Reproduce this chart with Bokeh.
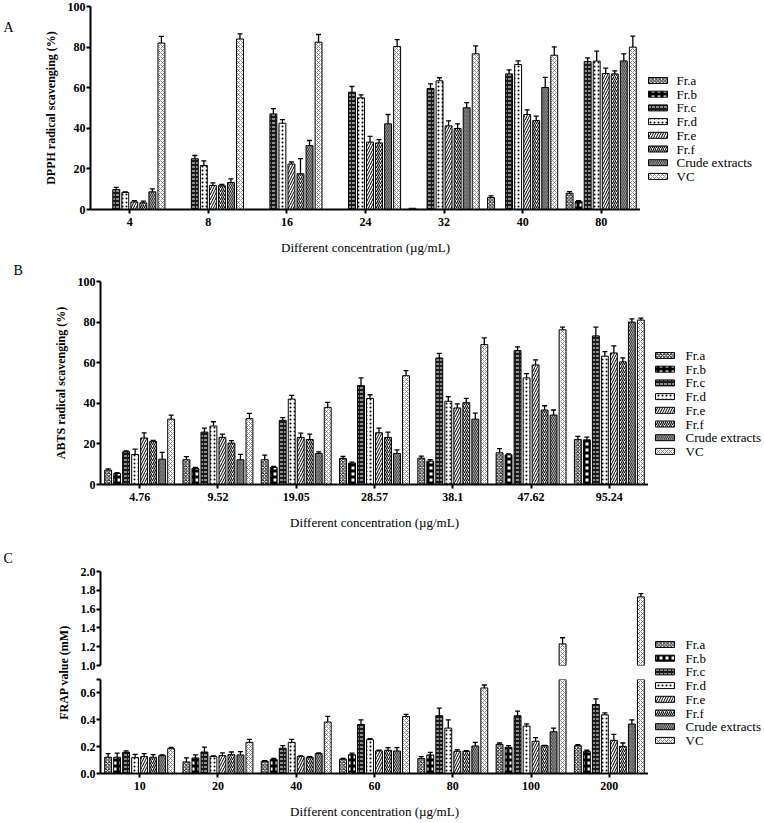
import math
from bokeh.plotting import figure
from bokeh.models import (ColumnDataSource, Range1d, FactorRange, FixedTicker,
                          Label, PrintfTickFormatter)
from bokeh.layouts import column, row
from bokeh.transform import dodge
from bokeh.core.properties import value
from bokeh.embed import file_html
from bokeh.resources import INLINE

FONT = "Liberation Serif"
series = ["Fr.a", "Fr.b", "Fr.c", "Fr.d", "Fr.e", "Fr.f", "Crude extracts", "VC"]

# ---------------- Panel A : DPPH ----------------
dpph_conc = ["4", "8", "16", "24", "32", "40", "80"]
dpph_fra = [0, 0, 0, 0, 0.6, 5.9, 8.0]
dpph_frb = [0, 0, 0, 0, 0, 0, 3.9]
dpph_frc = [9.8, 25.0, 47.1, 57.8, 59.6, 66.8, 72.9]
dpph_frd = [8.4, 21.7, 42.5, 55.0, 63.4, 71.4, 73.1]
dpph_fre = [3.7, 11.8, 22.4, 33.2, 41.2, 46.8, 67.0]
dpph_frf = [3.3, 11.7, 17.6, 32.8, 39.9, 43.8, 66.8]
dpph_crude = [8.7, 13.3, 31.5, 42.2, 50.1, 60.1, 73.2]
dpph_vc = [82.0, 84.0, 82.4, 80.3, 76.7, 76.0, 80.0]
dpph_fra_err = [0, 0, 0, 0, 0, 0.8, 0.8]
dpph_frb_err = [0, 0, 0, 0, 0, 0, 0.5]
dpph_frc_err = [1.1, 1.6, 2.6, 2.8, 2.3, 2.0, 1.8]
dpph_frd_err = [0.3, 2.3, 1.8, 1.5, 1.5, 1.8, 4.9]
dpph_fre_err = [0.6, 1.3, 1.0, 2.8, 2.5, 2.3, 2.6]
dpph_frf_err = [0.8, 0.7, 7.5, 1.6, 2.3, 2.2, 1.5]
dpph_crude_err = [1.5, 1.8, 2.5, 4.6, 2.5, 5.0, 3.5]
dpph_vc_err = [3.3, 2.5, 3.8, 3.4, 3.9, 4.1, 5.4]

# ---------------- Panel B : ABTS ----------------
abts_conc = ["4.76", "9.52", "19.05", "28.57", "38.1", "47.62", "95.24"]
abts_fra = [7.1, 12.2, 12.2, 12.8, 13.0, 15.6, 22.2]
abts_frb = [5.4, 7.9, 8.4, 10.5, 11.5, 14.6, 22.0]
abts_frc = [16.1, 25.8, 31.6, 48.7, 62.3, 66.0, 73.2]
abts_frd = [14.8, 28.8, 42.1, 42.4, 41.0, 52.5, 63.2]
abts_fre = [22.9, 23.2, 23.2, 25.5, 37.7, 58.9, 64.8]
abts_frf = [21.2, 20.4, 22.2, 23.2, 40.3, 36.7, 60.4]
abts_crude = [12.5, 12.2, 15.3, 15.3, 32.2, 34.2, 80.0]
abts_vc = [32.2, 32.4, 38.0, 53.6, 68.9, 76.2, 81.0]
abts_fra_err = [0.6, 1.5, 2.3, 1.0, 1.0, 2.1, 1.5]
abts_frb_err = [0.4, 0.5, 0.5, 0.5, 0.7, 0.5, 1.3]
abts_frc_err = [0.5, 2.0, 1.3, 3.8, 2.3, 1.8, 4.3]
abts_frd_err = [2.6, 2.1, 1.8, 1.8, 2.3, 2.1, 2.3]
abts_fre_err = [2.5, 1.6, 2.1, 2.3, 2.0, 2.5, 3.5]
abts_frf_err = [0.5, 1.2, 2.6, 2.6, 2.1, 2.1, 2.0]
abts_crude_err = [3.3, 2.6, 0.8, 1.8, 3.0, 2.5, 1.6]
abts_vc_err = [2.0, 2.6, 2.5, 2.5, 3.3, 1.3, 1.0]

# ---------------- Panel C : FRAP ----------------
frap_conc = ["10", "20", "40", "60", "80", "100", "200"]
frap_fra = [0.121, 0.086, 0.091, 0.106, 0.111, 0.217, 0.207]
frap_frb = [0.121, 0.116, 0.104, 0.140, 0.138, 0.195, 0.163]
frap_frc = [0.158, 0.160, 0.188, 0.365, 0.430, 0.430, 0.514]
frap_frd = [0.118, 0.126, 0.232, 0.252, 0.338, 0.353, 0.437]
frap_fre = [0.126, 0.133, 0.126, 0.168, 0.165, 0.240, 0.247]
frap_frf = [0.121, 0.140, 0.121, 0.173, 0.165, 0.207, 0.202]
frap_crude = [0.133, 0.138, 0.148, 0.168, 0.205, 0.311, 0.368]
frap_vc = [0.185, 0.232, 0.383, 0.425, 0.637, 1.230, 1.730]
frap_fra_err = [0.027, 0.030, 0.005, 0.007, 0.015, 0.010, 0.007]
frap_frb_err = [0.030, 0.022, 0.008, 0.012, 0.020, 0.012, 0.010]
frap_frc_err = [0.010, 0.037, 0.020, 0.035, 0.057, 0.035, 0.042]
frap_frd_err = [0.025, 0.005, 0.022, 0.007, 0.062, 0.017, 0.015]
frap_fre_err = [0.022, 0.020, 0.005, 0.005, 0.012, 0.027, 0.044]
frap_frf_err = [0.020, 0.020, 0.005, 0.020, 0.005, 0.003, 0.025]
frap_crude_err = [0.005, 0.025, 0.005, 0.025, 0.027, 0.027, 0.032]
frap_vc_err = [0.010, 0.022, 0.042, 0.015, 0.022, 0.065, 0.035]

yticks_pct = [0, 20, 40, 60, 80, 100]
yticks_frap_low = [0.0, 0.2, 0.4, 0.6, 0.7]
yticks_frap_high = [1.0, 1.2, 1.4, 1.6, 1.8, 2.0]

STEP = 0.115      # bar pitch inside a group (fraction of a category)
BAR_W = 0.088     # bar width (fraction of a category)
LEG_ROW = 13.7    # legend row pitch in px
LEG_SW_W = 19     # legend swatch width px
LEG_SW_H = 6      # legend swatch height px

STYLES = [
    dict(fill_color="white", hatch_pattern="diagonal_cross", hatch_scale=3.5, hatch_weight=0.9, hatch_color="black"),
    dict(fill_color="white", hatch_pattern="cross", hatch_scale=6, hatch_weight=3, hatch_color="black"),
    dict(fill_color="#1a1a1a", hatch_pattern="horizontal_dash", hatch_scale=4, hatch_weight=1, hatch_color="white"),
    dict(fill_color="white", hatch_pattern="dot", hatch_scale=4, hatch_weight=0.5, hatch_color="black"),
    dict(fill_color="white", hatch_pattern="right_diagonal_line", hatch_scale=5, hatch_weight=1, hatch_color="black"),
    dict(fill_color="white", hatch_pattern="right_diagonal_line", hatch_scale=4, hatch_weight=1.1, hatch_color="black"),
    dict(fill_color="white", hatch_pattern="left_diagonal_line", hatch_scale=3.8, hatch_weight=1.0, hatch_color="black"),
    dict(fill_color="white", hatch_pattern="diagonal_cross", hatch_scale=4, hatch_weight=0.7, hatch_color="#666666"),
]


def base_fig(cats, yr, w, h, fw, fh, left, right, top, bottom, xaxis=True):
    p = figure(x_range=FactorRange(*cats), y_range=yr, width=w, height=h,
               frame_width=fw, frame_height=fh,
               min_border_left=left, min_border_right=right, min_border_top=top,
               min_border_bottom=bottom, toolbar_location=None, output_backend="svg",
               x_axis_location="below" if xaxis else None)
    p.outline_line_color = None
    p.xgrid.grid_line_color = None
    p.ygrid.grid_line_color = None
    p.background_fill_color = "white"
    p.border_fill_color = "white"
    for ax in p.axis:
        ax.axis_line_width = 2
        ax.axis_line_color = "black"
        ax.major_tick_line_width = 2
        ax.major_tick_in = 0
        ax.major_tick_out = 4
        ax.minor_tick_line_color = None
        ax.major_label_text_font = FONT
        ax.major_label_text_font_style = "bold"
        ax.major_label_text_font_size = "12px"
        ax.major_label_text_color = "black"
        ax.axis_label_text_font = FONT
        ax.axis_label_text_color = "black"
    p.yaxis.major_label_standoff = 1
    if xaxis:
        p.xaxis.major_label_standoff = 4
        p.xaxis.axis_label = "Different concentration (\u00b5g/mL)"
        p.xaxis.axis_label_text_font_style = "normal"
        p.xaxis.axis_label_text_font_size = "13px"
        p.xaxis.axis_label_standoff = 11
    return p


def add_bars(p, cats, vals_list, errs_list, floor=None):
    for i, (vals, errs) in enumerate(zip(vals_list, errs_list)):
        off = (i - 3.5) * STEP
        xs = dodge("conc", off, range=p.x_range)
        bk = [k for k in range(len(cats)) if floor is None or vals[k] > floor]
        src = ColumnDataSource(dict(conc=[cats[k] for k in bk], val=[vals[k] for k in bk]))
        p.vbar(x=xs, top="val", width=BAR_W, source=src,
               line_color="black", line_width=1, **STYLES[i])
        keep = [k for k in bk if errs[k] > 0]
        esrc = ColumnDataSource(dict(conc=[cats[k] for k in keep],
                                     val=[vals[k] for k in keep],
                                     up=[vals[k] + errs[k] for k in keep]))
        p.segment(x0=xs, y0="val", x1=xs, y1="up", source=esrc,
                  line_color="black", line_width=1.3)
        p.scatter(x=xs, y="up", marker="dash", size=5, source=esrc,
                  line_color="black", line_width=1.3)


def strip(w, h):
    """A blank pixel-unit canvas used for panel letters, shared titles and legends."""
    s = figure(width=w, height=h, x_range=Range1d(0, w), y_range=Range1d(0, h),
               min_border=0, x_axis_location=None, y_axis_location=None,
               toolbar_location=None, output_backend="svg")
    s.outline_line_color = None
    s.grid.grid_line_color = None
    s.background_fill_color = "white"
    s.border_fill_color = "white"
    return s


def letter_strip(w, h, text, x, y):
    s = strip(w, h)
    s.add_layout(Label(x=x, y=y, text=text, text_font=FONT, text_font_size="14px",
                       text_color="black", text_align="left", text_baseline="alphabetic"))
    return s


def legend_strip(w, h, x0, y_first, text_x):
    """Legend: one hatched swatch + label per series, rows LEG_ROW px apart."""
    s = strip(w, h)
    for i, name in enumerate(series):
        yc = y_first - i * LEG_ROW
        s.rect(x=[x0 + LEG_SW_W / 2], y=[yc], width=LEG_SW_W, height=LEG_SW_H,
               line_color="black", line_width=1, **STYLES[i])
        s.text(x=[text_x], y=[yc], text=[name], text_font=value(FONT),
               text_font_size=value("13px"), text_color="black",
               text_align="left", text_baseline="middle")
    return s


# ---- Row A ----
pa = base_fig(dpph_conc, Range1d(0, 100), 597, 257, 550, 203, 47, 0, 6, 48)
pa.yaxis.ticker = FixedTicker(ticks=yticks_pct)
pa.yaxis.axis_label = "DPPH radical scavenging (%)"
pa.yaxis.axis_label_text_font_style = "bold"
pa.yaxis.axis_label_text_font_size = "12px"
pa.yaxis.axis_label_standoff = 7
add_bars(pa, dpph_conc,
         [dpph_fra, dpph_frb, dpph_frc, dpph_frd, dpph_fre, dpph_frf, dpph_crude, dpph_vc],
         [dpph_fra_err, dpph_frb_err, dpph_frc_err, dpph_frd_err, dpph_fre_err,
          dpph_frf_err, dpph_crude_err, dpph_vc_err])
row_a = row(column(letter_strip(40, 257, "A", 3, 230)), pa,
            column(legend_strip(127, 257, 8, 177, 36)))

# ---- Row B ----
pb = base_fig(abts_conc, Range1d(0, 100), 608, 286, 548, 203, 60, 0, 24, 59)
pb.yaxis.ticker = FixedTicker(ticks=yticks_pct)
pb.yaxis.axis_label = "ABTS radical scavenging (%)"
pb.yaxis.axis_label_text_font_style = "bold"
pb.yaxis.axis_label_text_font_size = "12px"
pb.yaxis.axis_label_standoff = 7
add_bars(pb, abts_conc,
         [abts_fra, abts_frb, abts_frc, abts_frd, abts_fre, abts_frf, abts_crude, abts_vc],
         [abts_fra_err, abts_frb_err, abts_frc_err, abts_frd_err, abts_fre_err,
          abts_frf_err, abts_crude_err, abts_vc_err])
row_b = row(column(letter_strip(40, 286, "B", 13, 273)), pb,
            column(legend_strip(116, 286, 7, 188, 37)))

# ---- Row C (broken y axis: two stacked frames sharing x) ----
frap_vals = [frap_fra, frap_frb, frap_frc, frap_frd, frap_fre, frap_frf, frap_crude, frap_vc]
frap_errs = [frap_fra_err, frap_frb_err, frap_frc_err, frap_frd_err, frap_fre_err,
             frap_frf_err, frap_crude_err, frap_vc_err]

pct = base_fig(frap_conc, Range1d(1.0, 2.0), 576, 129, 548, 94, 28, 0, 28, 7, xaxis=False)
pct.yaxis.ticker = FixedTicker(ticks=yticks_frap_high)
pct.yaxis.formatter = PrintfTickFormatter(format="%.1f")
add_bars(pct, frap_conc, frap_vals, frap_errs, floor=1.0)

pcb = base_fig(frap_conc, Range1d(0, 0.7), 576, 151, 548, 94, 28, 0, 7, 50)
pcb.x_range = pct.x_range
pcb.yaxis.ticker = FixedTicker(ticks=yticks_frap_low)
pcb.yaxis.formatter = PrintfTickFormatter(format="%.1f")
pcb.yaxis.major_label_overrides = {0.7: ""}
add_bars(pcb, frap_conc, frap_vals, frap_errs)

side = letter_strip(72, 280, "C", 3, 265)
side.add_layout(Label(x=63, y=151, text="FRAP value (mM)", angle=math.pi / 2,
                      text_font=FONT, text_font_style="bold", text_font_size="12px",
                      text_align="center", text_baseline="middle", text_color="black"))
row_c = row(column(side), column(pct, pcb), column(legend_strip(116, 280, 7, 179, 37)))

layout = column(row_a, row_b, row_c,
                styles={"position": "absolute", "left": "0px", "top": "0px"})

open("out.html", "w").write(file_html(layout, INLINE))
